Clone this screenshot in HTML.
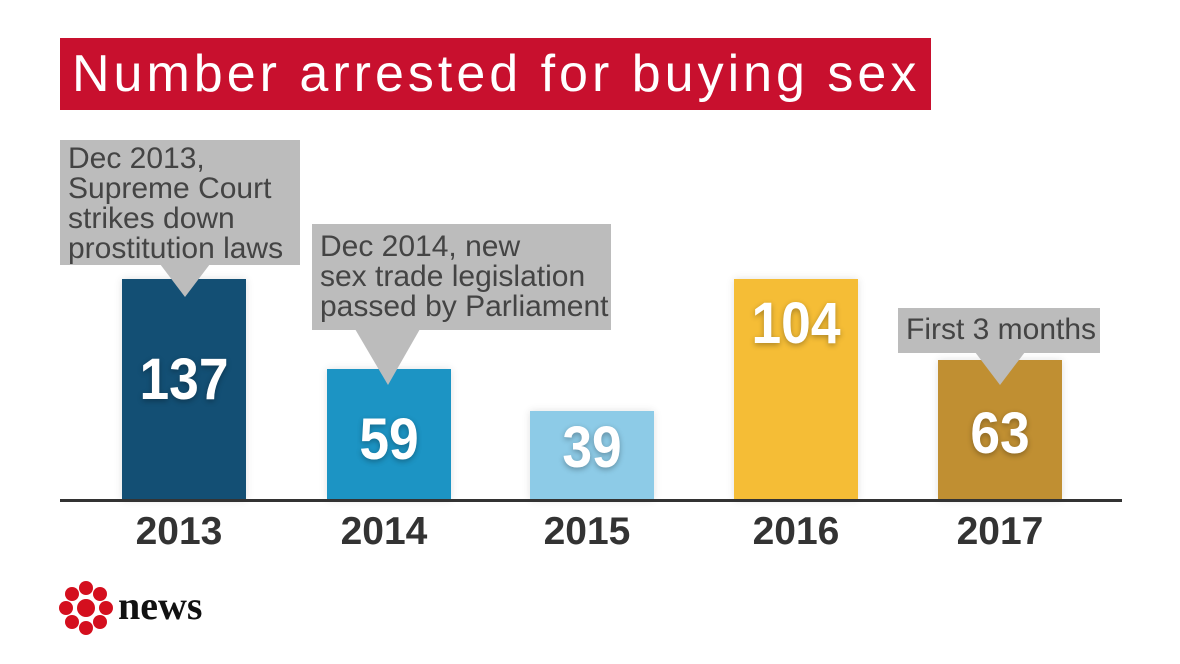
<!DOCTYPE html>
<html><head><meta charset="utf-8"><style>
body{margin:0;width:1180px;height:664px;background:#fff;overflow:hidden;position:relative;font-family:"Liberation Sans",sans-serif}
.a{position:absolute}
.title{left:60px;top:38px;width:871px;height:72px;background:#c8102e;color:#fff;font-size:52px;line-height:72px;padding-left:12px;box-sizing:border-box;font-family:"Liberation Sans",sans-serif;letter-spacing:4px;white-space:nowrap}
.bar{position:absolute;width:124px;bottom:164px;box-shadow:0 0 8px rgba(0,0,0,0.12)}
.v{position:absolute;color:#fff;font-weight:bold;font-size:58px;width:124px;text-align:center;transform:scaleX(0.92);text-shadow:0 2px 6px rgba(0,0,0,0.3)}
.yr{position:absolute;top:510px;width:124px;text-align:center;font-weight:bold;font-size:39px;color:#333}
.box{position:absolute;background:#bcbcbc;color:#444;font-size:30px;line-height:30px;padding:4px 8px;box-sizing:border-box;white-space:nowrap}
</style></head><body>
<div class="a title">Number arrested for buying sex</div>

<div class="bar" style="left:122px;top:279px;background:#134f74"></div>
<div class="bar" style="left:327px;top:369px;background:#1c94c4"></div>
<div class="bar" style="left:530px;top:411px;background:#8dcbe7"></div>
<div class="bar" style="left:734px;top:279px;background:#f5bd36"></div>
<div class="bar" style="left:938px;top:360px;background:#c08f32"></div>
<div class="a" style="left:60px;top:499px;width:1062px;height:3px;background:#333"></div>

<svg class="a" style="left:0;top:0" width="1180" height="664">
<polygon points="160,264 210,264 185,297" fill="#bcbcbc"/>
<polygon points="355,329 420,329 388,385" fill="#bcbcbc"/>
<polygon points="975,352 1025,352 1000,385" fill="#bcbcbc"/>
</svg>
<div class="box" style="left:60px;top:140px;width:240px;height:125px">Dec 2013,<br>Supreme Court<br>strikes down<br>prostitution laws</div>
<div class="box" style="left:312px;top:224px;width:299px;height:106px;padding-top:8px">Dec 2014, new<br>sex trade legislation<br>passed by Parliament</div>
<div class="box" style="left:898px;top:308px;width:202px;height:45px;padding-top:7px">First 3 months</div>

<div class="v" style="left:122px;top:346px">137</div>
<div class="v" style="left:327px;top:406px">59</div>
<div class="v" style="left:530px;top:414px">39</div>
<div class="v" style="left:734px;top:290px">104</div>
<div class="v" style="left:938px;top:400px">63</div>

<div class="yr" style="left:117px">2013</div>
<div class="yr" style="left:322px">2014</div>
<div class="yr" style="left:525px">2015</div>
<div class="yr" style="left:734px">2016</div>
<div class="yr" style="left:938px">2017</div>

<svg class="a" style="left:58px;top:580px" width="56" height="56" viewBox="0 0 56 56">
<g fill="#d40f1e">
<circle cx="28" cy="28" r="9"/>
<circle cx="28" cy="8" r="7"/><circle cx="28" cy="48" r="7"/>
<circle cx="8" cy="28" r="7"/><circle cx="48" cy="28" r="7"/>
<circle cx="14" cy="14" r="7"/><circle cx="42" cy="14" r="7"/>
<circle cx="14" cy="42" r="7"/><circle cx="42" cy="42" r="7"/>
</g></svg>
<div class="a" style="left:118px;top:582px;font-family:'Liberation Serif',serif;font-weight:bold;font-size:40px;color:#111">news</div>
</body></html>
